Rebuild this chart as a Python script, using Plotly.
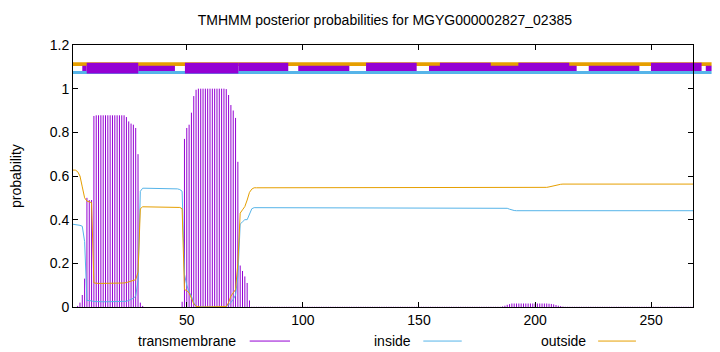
import plotly.graph_objects as go

# ---------------- data ----------------
positions = list(range(1, 269))

transmembrane = ([0, 0, 0.005, 0.02, 0.055, 0.13, 0.50, 0.49, 0.49, 0.875]
                 + [0.878] * 13
                 + [0.87, 0.85, 0.84, 0.835, 0.82, 0.70, 0.02, 0.005]
                 + [0] * 16
                 + [0.024, 0.77, 0.82, 0.835, 0.89, 0.966, 0.995]
                 + [1.0] * 12
                 + [0.998, 0.971, 0.925, 0.90, 0.866, 0.665, 0.19, 0.165, 0.14, 0.11, 0.03]
                 + [0.001] * 108
                 + [0.003, 0.006, 0.01, 0.013] + [0.016] * 16
                 + [0.015, 0.014, 0.012, 0.009, 0.006, 0.004, 0.002]
                 + [0.001] * 56)

inside = ([0.379, 0.378, 0.376, 0.374, 0.37, 0.30]
          + [0.03, 0.03, 0.028, 0.025]
          + [0.024] * 13
          + [0.026, 0.03, 0.035, 0.04, 0.05, 0.12]
          + [0.53]
          + [0.544] * 8 + [0.541] * 8
          + [0.538, 0.53]
          + [0.15, 0.10, 0.07, 0.05, 0.02, 0.003]
          + [0] * 12
          + [0, 0.01, 0.02, 0.035, 0.055, 0.14, 0.38, 0.39, 0.40, 0.40, 0.43, 0.45]
          + [0.455] * 109
          + [0.452, 0.448, 0.444, 0.442]
          + [0.441] * 77)

outside = ([0.627, 0.627, 0.62, 0.60, 0.55, 0.50, 0.485, 0.48, 0.478]
           + [0.11]
           + [0.108] * 12
           + [0.11, 0.112, 0.115, 0.118, 0.12, 0.125, 0.16]
           + [0.45]
           + [0.459] * 16
           + [0.456, 0.45]
           + [0.08, 0.075, 0.065, 0.04, 0.015, 0.003]
           + [0] * 12
           + [0.002, 0.02, 0.05, 0.065, 0.08, 0.2, 0.43, 0.445, 0.46, 0.49, 0.525, 0.54]
           + [0.546] * 107
           + [0.548] * 20
           + [0.55, 0.553, 0.556, 0.558, 0.56, 0.562]
           + [0.563] * 57)

# topology strip at the top (start, end positions)
strip_full = (1, 276)
strip_thick = [(6.9, 29.1), (49.2, 72.2)]
strip_upper = [(72.2, 93.7), (127.2, 149.0), (159.0, 180.9), (192.8, 214.7), (249.9, 271.7)]
strip_middle = [(5.0, 6.9), (29.1, 44.9), (98.0, 120.0), (154.3, 217.9), (223.1, 244.9), (273.5, 276.0)]

x_ticks = [50, 100, 150, 200, 250]
y_ticks = [0, 0.2, 0.4, 0.6, 0.8, 1.0, 1.2]
y_ticktext = ["0", "0.2", "0.4", "0.6", "0.8", "1", "1.2"]

legend_names = ["transmembrane", "inside", "outside"]

# ---------------- style ----------------
C_TM = "#9400D3"
C_IN = "#56B4E9"
C_OUT = "#E69F00"
FONT = "Liberation Sans"
FS = 14
X_MIN, X_MAX = 1, 268
Y_MIN, Y_MAX = 0, 1.2


def xp(v):
    return (v - X_MIN) / (X_MAX - X_MIN)


def yp(v):
    return (v - Y_MIN) / (Y_MAX - Y_MIN)


# impulses for transmembrane
imp_x, imp_y = [], []
for p, v in zip(positions, transmembrane):
    imp_x += [p, p, None]
    imp_y += [0, v, None]

fig = go.Figure()
fig.add_trace(go.Scatter(x=imp_x, y=imp_y, mode="lines",
                         line=dict(color=C_TM, width=1), showlegend=False, hoverinfo="skip"))
fig.add_trace(go.Scatter(x=positions, y=inside, mode="lines",
                         line=dict(color=C_IN, width=1), showlegend=False))
fig.add_trace(go.Scatter(x=positions, y=outside, mode="lines",
                         line=dict(color=C_OUT, width=1), showlegend=False))

shapes = []


def rect(x0, x1, y0, y1, color):
    shapes.append(dict(type="rect", xref="paper", yref="paper",
                       x0=xp(x0), x1=xp(x1), y0=yp(y0), y1=yp(y1),
                       fillcolor=color, line=dict(width=0), layer="below"))


rect(strip_full[0], strip_full[1], 1.104, 1.121, C_OUT)
rect(strip_full[0], strip_full[1], 1.067, 1.081, C_IN)
for a, b in strip_middle:
    rect(a, b, 1.081, 1.105, C_TM)
for a, b in strip_upper:
    rect(a, b, 1.081, 1.119, C_TM)
for a, b in strip_thick:
    rect(a, b, 1.070, 1.119, C_TM)

# manual legend (text then line sample, gnuplot style)
legend_text_right = [0.266, 0.548, 0.831]
legend_line = [(0.285, 0.35), (0.565, 0.627), (0.847, 0.908)]
legend_colors = [C_TM, C_IN, C_OUT]
legend_y = -0.13
annotations = []
for name, xr, (l0, l1), c in zip(legend_names, legend_text_right, legend_line, legend_colors):
    annotations.append(dict(text=name, xref="paper", yref="paper", x=xr, y=legend_y,
                            xanchor="right", yanchor="middle", showarrow=False,
                            font=dict(family=FONT, size=FS, color="black")))
    shapes.append(dict(type="line", xref="paper", yref="paper", x0=l0, x1=l1,
                       y0=legend_y, y1=legend_y, line=dict(color=c, width=1)))

annotations.append(dict(text="probability", xref="paper", yref="paper", x=-0.092, y=0.5,
                        textangle=-90, xanchor="center", yanchor="middle", showarrow=False,
                        font=dict(family=FONT, size=FS, color="black")))

fig.update_layout(
    width=720, height=352,
    margin=dict(l=73, r=27, t=45, b=45),
    paper_bgcolor="white", plot_bgcolor="white",
    font=dict(family=FONT, size=FS, color="black"),
    title=dict(text="TMHMM posterior probabilities for MGYG000002827_02385",
               x=0.503, xref="paper", xanchor="center",
               y=1 - 20 / 352, yref="container", yanchor="middle",
               font=dict(family=FONT, size=FS, color="black")),
    shapes=shapes, annotations=annotations, showlegend=False,
    xaxis=dict(range=[X_MIN, X_MAX], tickvals=x_ticks, ticks="inside", ticklen=5,
               tickcolor="black", mirror="allticks", showline=True, linecolor="black",
               linewidth=1, showgrid=False, zeroline=False),
    yaxis=dict(range=[Y_MIN, Y_MAX], tickvals=y_ticks, ticktext=y_ticktext, ticks="inside",
               ticklen=5, tickcolor="black", mirror="allticks", showline=True,
               linecolor="black", linewidth=1, showgrid=False, zeroline=False),
)

fig.write_html("out.html")
